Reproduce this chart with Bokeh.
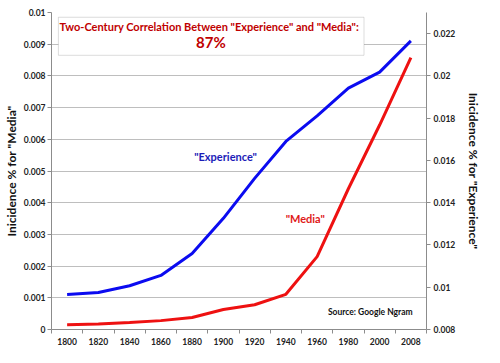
from bokeh.plotting import figure
from bokeh.models import (Range1d, LinearAxis, FixedTicker, CustomJSTickFormatter,
                          BoxAnnotation, Label, ColumnDataSource)
from bokeh.embed import file_html
from bokeh.resources import INLINE

# ---- data ----
years = ["1800", "1820", "1840", "1860", "1880", "1900", "1920", "1940",
         "1960", "1980", "2000", "2008"]
media = [0.00015, 0.00017, 0.00022, 0.00028, 0.00038, 0.00063, 0.00078,
         0.00111, 0.0023, 0.00444, 0.00645, 0.00858]
experience = [0.00966, 0.00975, 0.01007, 0.01056, 0.0116, 0.01326, 0.01515,
              0.0169, 0.01811, 0.01942, 0.02018, 0.02166]
left_ticks = [0, 0.001, 0.002, 0.003, 0.004, 0.005, 0.006, 0.007, 0.008, 0.009, 0.01]
right_ticks = [0.008, 0.01, 0.012, 0.014, 0.016, 0.018, 0.02, 0.022]
title_line1 = 'Two-Century Correlation Between "Experience" and "Media":'
title_line2 = "87%"

FONT = "Lato"
AXIS_COL = "#8C8C8C"

xpos = [i + 0.5 for i in range(len(years))]
src = ColumnDataSource(dict(x=xpos, media=media, experience=experience))

p = figure(width=484, height=347, output_backend="svg", toolbar_location=None,
           x_range=Range1d(0, len(years)), y_range=Range1d(0, 0.01),
           min_border_left=43, min_border_right=54, min_border_top=12,
           min_border_bottom=12)
p.extra_y_ranges = {"right": Range1d(0.008, 0.023)}
p.outline_line_color = None
p.background_fill_color = "white"
p.border_fill_color = "white"

fmt = CustomJSTickFormatter(code="return parseFloat(tick.toFixed(4)).toString();")

# left axis
ya = p.yaxis[0]
ya.ticker = FixedTicker(ticks=left_ticks)
ya.formatter = fmt
ya.axis_label = 'Inicidence % for "Media"'
ya.axis_label_standoff = 2

# right axis
ra = LinearAxis(y_range_name="right", ticker=FixedTicker(ticks=right_ticks),
                formatter=fmt, axis_label='Inicidence % for "Experience"')
ra.axis_label_standoff = 8
p.add_layout(ra, "right")

for ax in (ya, ra):
    ax.axis_label_text_font = FONT
    ax.axis_label_text_font_size = "12px"
    ax.axis_label_text_font_style = "bold"
    ax.axis_label_text_color = "#111111"
    ax.major_label_text_font = FONT
    ax.major_label_text_font_size = "8.5px"
    ax.major_label_text_font_style = "bold"
    ax.major_label_text_color = "#222222"
    ax.axis_line_color = AXIS_COL
    ax.major_tick_line_color = AXIS_COL
    ax.major_tick_out = 4
    ax.major_tick_in = 0
    ax.minor_tick_line_color = None
ya.major_label_standoff = 2
ra.major_label_standoff = 3

# bottom axis
xa = p.xaxis[0]
xa.ticker = FixedTicker(ticks=xpos, minor_ticks=list(range(len(years) + 1)))
xa.major_label_overrides = {x: y for x, y in zip(xpos, years)}
xa.major_label_text_font = FONT
xa.major_label_text_font_size = "8.5px"
xa.major_label_text_font_style = "bold"
xa.major_label_text_color = "#222222"
xa.axis_line_color = AXIS_COL
xa.major_tick_line_color = None
xa.major_tick_out = 0
xa.major_tick_in = 0
xa.minor_tick_line_color = AXIS_COL
xa.minor_tick_out = 4
xa.minor_tick_in = 0
xa.major_label_standoff = 4

p.xgrid.grid_line_color = None
p.ygrid.grid_line_color = "#BEBEBE"
p.ygrid.ticker = FixedTicker(ticks=left_ticks)

# lines
p.line("x", "experience", source=src, y_range_name="right", line_color="#0B0BF0",
       line_width=3)
p.line("x", "media", source=src, line_color="#EE1111", line_width=3)

# title box
p.add_layout(BoxAnnotation(left=0.22, right=10.0, top=0.00985, bottom=0.00865,
                           fill_color="white", fill_alpha=1.0,
                           line_color="#8C8C8C", line_width=1))
p.add_layout(Label(x=5.05, y=0.00955, text=title_line1, text_align="center",
                   text_baseline="middle", text_font=FONT, text_font_size="11px",
                   text_font_style="bold", text_color="#C00000"))
p.add_layout(Label(x=5.1, y=0.00906, text=title_line2, text_align="center",
                   text_baseline="middle", text_font=FONT, text_font_size="15px",
                   text_font_style="bold", text_color="#C00000"))

# series labels
p.add_layout(Label(x=5.57, y=0.00547, text='"Experience"', text_align="center",
                   text_baseline="middle", text_font=FONT, text_font_size="11px",
                   text_font_style="bold", text_color="#1C1CB8"))
p.add_layout(Label(x=8.12, y=0.00351, text='"Media"', text_align="center",
                   text_baseline="middle", text_font=FONT, text_font_size="11px",
                   text_font_style="bold", text_color="#E01A1A"))
p.add_layout(Label(x=10.2, y=0.00054, text="Source: Google Ngram", text_align="center",
                   text_baseline="middle", text_font=FONT, text_font_size="8.5px",
                   text_font_style="bold", text_color="#111111"))

open("out.html", "w").write(file_html(p, INLINE))
